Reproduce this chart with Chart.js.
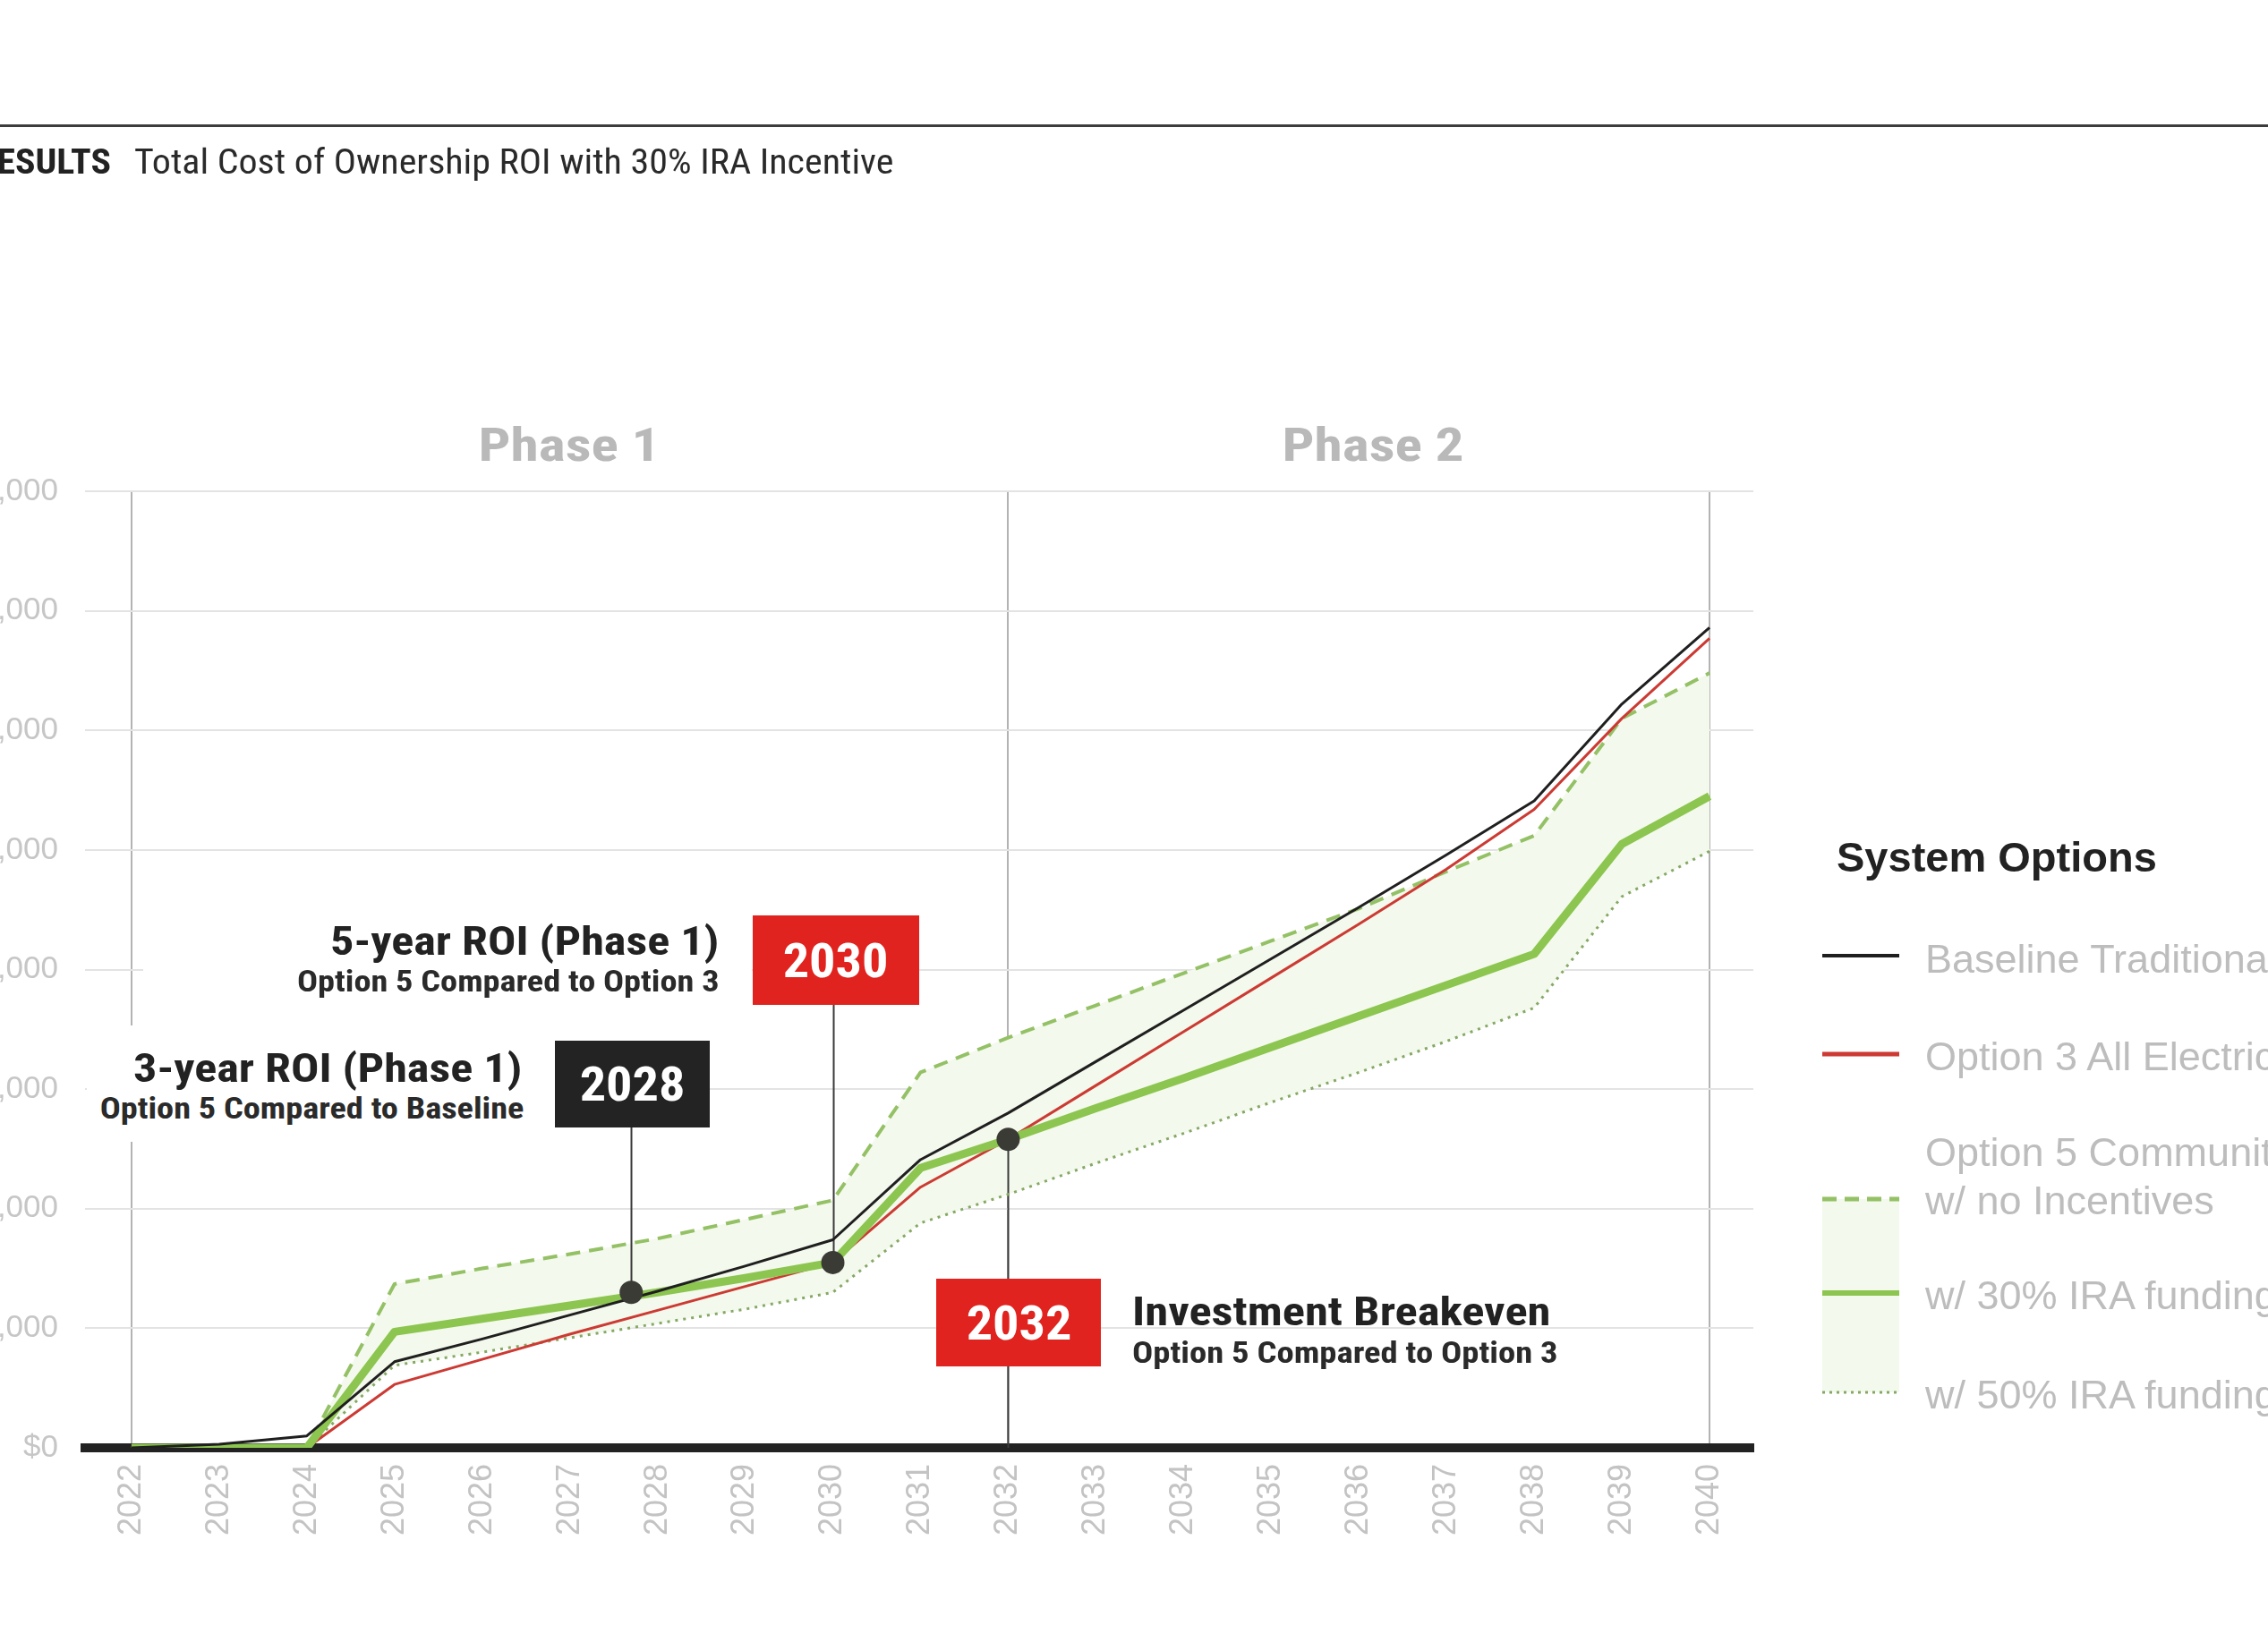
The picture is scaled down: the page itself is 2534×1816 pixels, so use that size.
<!DOCTYPE html>
<html>
<head>
<meta charset="utf-8">
<script src="https://cdn.jsdelivr.net/npm/chart.js@4.4.1/dist/chart.umd.min.js"></script>
<style>
  html, body { margin: 0; padding: 0; background: #fff; }
  body { width: 2534px; height: 1816px; position: relative; overflow: hidden; font-family: "Liberation Sans", Arial, sans-serif; }
  #chart { position: absolute; left: 0; top: 0; }
  .abs { position: absolute; white-space: nowrap; line-height: 1; }
  .narrow { font-family: "Liberation Sans Narrow", "Arial Narrow", "Roboto Condensed", sans-serif; }
  .rule { position: absolute; left: 0; top: 139px; width: 2534px; height: 3px; background: #3c3c3c; }
  .phase { font-weight: bold; font-size: 52px; color: #b9b9b9; transform: translateX(-50%) scaleX(1.22); }
  .head { font-weight: bold; font-size: 45px; color: #222; }
  .sub { font-weight: bold; font-size: 33px; color: #2a2a2a; }
  .wideR { transform: scaleX(1.16); transform-origin: right center; }
  .wideL { transform: scaleX(1.17); transform-origin: left center; }
  .box { position: absolute; color: #fff; font-size: 54px; font-weight: bold; display: flex; align-items: center; justify-content: center; }
  .box span { display: inline-block; transform: scaleX(1.08); }
  .blank { position: absolute; background: #fff; }
  .leg { font-size: 45px; color: #bdbdbd; }
</style>
</head>
<body>
<canvas id="chart" width="2534" height="1816"></canvas>

<div class="rule"></div>
<div class="abs narrow" style="right:2410px; top:162px; font-size:38px; font-weight:bold; color:#222; transform:scaleX(1.1); transform-origin:right center;">RESULTS</div>
<div class="abs narrow" style="left:150px; top:162px; font-size:38px; color:#2a2a2a; transform:scaleX(1.105); transform-origin:left center;">Total Cost of Ownership ROI with 30% IRA Incentive</div>

<div class="abs narrow phase" style="left:636px; top:472px;">Phase 1</div>
<div class="abs narrow phase" style="left:1534px; top:472px;">Phase 2</div>

<!-- белые подложки под подписями -->
<div class="blank" style="left:160px; top:1028px; width:680px; height:98px;"></div>
<div class="blank" style="left:97px; top:1146px; width:524px; height:130px;"></div>

<div class="abs narrow head wideR" style="right:1731px; top:1029px;">5-year ROI (Phase 1)</div>
<div class="abs narrow sub wideR" style="right:1731px; top:1080px;">Option 5 Compared to Option 3</div>
<div class="abs narrow head wideR" style="right:1951px; top:1171px;">3-year ROI (Phase 1)</div>
<div class="abs narrow sub wideR" style="right:1949px; top:1222px;">Option 5 Compared to Baseline</div>
<div class="abs narrow head wideL" style="left:1265px; top:1443px;">Investment Breakeven</div>
<div class="abs narrow sub wideL" style="left:1265px; top:1495px;">Option 5 Compared to Option 3</div>

<div id="box2030" class="box narrow" style="left:837px; top:1023px; width:186px; height:100px; background:#e0231e;"><span>2030</span></div>
<div id="box2028" class="box narrow" style="left:619px; top:1163px; width:173px; height:97px; background:#232323;"><span>2028</span></div>
<div id="box2032" class="box narrow" style="left:1047px; top:1429px; width:184px; height:98px; background:#e0231e;"><span>2032</span></div>

<!-- легенда -->
<svg class="abs" style="left:0; top:0;" width="2534" height="1816">
  <rect x="2036" y="1340" width="86" height="216" fill="#f3f9ec"/>
  <line x1="2036" y1="1068" x2="2122" y2="1068" stroke="#1f1f1f" stroke-width="4"/>
  <line x1="2036" y1="1178" x2="2122" y2="1178" stroke="#cc3a33" stroke-width="5"/>
  <line x1="2036" y1="1340" x2="2122" y2="1340" stroke="#94c165" stroke-width="5" stroke-dasharray="16 9"/>
  <line x1="2036" y1="1445" x2="2122" y2="1445" stroke="#8cc54f" stroke-width="6"/>
  <line x1="2036" y1="1556" x2="2122" y2="1556" stroke="#86a865" stroke-width="3" stroke-dasharray="3 5"/>
</svg>
<div class="abs" style="left:2052px; top:934px; font-size:47px; font-weight:bold; color:#222;">System Options</div>
<div class="abs leg" style="left:2151px; top:1049px;">Baseline Traditional</div>
<div class="abs leg" style="left:2151px; top:1158px;">Option 3 All Electric</div>
<div class="abs leg" style="left:2151px; top:1265px;">Option 5 Community</div>
<div class="abs leg" style="left:2151px; top:1319px;">w/ no Incentives</div>
<div class="abs leg" style="left:2151px; top:1425px;">w/ 30% IRA funding</div>
<div class="abs leg" style="left:2151px; top:1536px;">w/ 50% IRA funding</div>

<script>
// Годы по оси X
const years = [2022, 2023, 2024, 2025, 2026, 2027, 2028, 2029, 2030, 2031, 2032, 2033, 2034, 2035, 2036, 2037, 2038, 2039, 2040];

// Ряды (в единицах сетки)
const baseline = [0, 0.03, 0.1, 0.72, 0.91, 1.11, 1.31, 1.52, 1.74, 2.41, 2.80, 3.23, 3.66, 4.09, 4.52, 4.96, 5.41, 6.22, 6.86];
const option3 = [0, 0, 0, 0.53, 0.74, 0.95, 1.15, 1.35, 1.55, 2.18, 2.58, 3.03, 3.48, 3.93, 4.38, 4.84, 5.34, 6.10, 6.77];
const opt5NoIncentive = [0, 0, 0, 1.37, 1.50, 1.62, 1.75, 1.91, 2.07, 3.14, 3.43, 3.70, 3.97, 4.24, 4.51, 4.82, 5.12, 6.10, 6.48];
const opt5Ira30 = [0, 0, 0, 0.97, 1.08, 1.19, 1.30, 1.42, 1.55, 2.34, 2.58, 2.84, 3.09, 3.35, 3.61, 3.87, 4.13, 5.05, 5.45];
const opt5Ira50 = [0, 0, 0, 0.69, 0.80, 0.92, 1.04, 1.16, 1.30, 1.88, 2.12, 2.38, 2.63, 2.89, 3.14, 3.40, 3.68, 4.61, 4.99];

// Точки ROI
const roiYears = [2027.7, 2030, 2032];
const roiValues = [1.30, 1.55, 2.58];

// Подписи оси Y
const yTickLabels = ["$0", "$1,000", "$2,000", "$3,000", "$4,000", "$5,000", "$6,000", "$7,000", "$8,000"];
const gridYears = [2022, 2032, 2040];

const toPoints = (vals) => years.map((yr, i) => ({ x: yr, y: vals[i] }));

// выноски от плашек к точкам
const leaderPlugin = {
    id: "leaders",
    beforeDatasetsDraw(chart) {
        const c = chart.ctx;
        const xs = chart.scales.x;
        const ys = chart.scales.y;
        c.save();
        c.strokeStyle = "#3a3a3a";
        c.lineWidth = 2;
        const lines = [
            [xs.getPixelForValue(roiYears[0]), 1260, ys.getPixelForValue(roiValues[0])],
            [xs.getPixelForValue(roiYears[1]), 1123, ys.getPixelForValue(roiValues[1])],
            [xs.getPixelForValue(roiYears[2]), ys.getPixelForValue(roiValues[2]), ys.getPixelForValue(0)],
        ];
        lines.forEach(([x, y1, y2]) => {
            c.beginPath();
            c.moveTo(Math.round(x) + 0.5, y1);
            c.lineTo(Math.round(x) + 0.5, y2);
            c.stroke();
        });
        c.restore();
    },
};

const ctx = document.getElementById("chart").getContext("2d");
const chart = new Chart(ctx, {
    type: "line",
    data: {
        datasets: [
            {
                label: "ROI",
                data: roiYears.map((x, i) => ({ x: x, y: roiValues[i] })),
                showLine: false,
                pointRadius: 13,
                pointBackgroundColor: "#3b3b36",
                pointBorderWidth: 0,
                order: 0,
            },
            {
                label: "Baseline Traditional",
                data: toPoints(baseline),
                borderColor: "#1f1f1f",
                borderWidth: 3,
                order: 1,
            },
            {
                label: "Option 3 All Electric",
                data: toPoints(option3),
                borderColor: "#cc3a33",
                borderWidth: 3,
                order: 3,
            },
            {
                label: "w/ no Incentives",
                data: toPoints(opt5NoIncentive),
                borderColor: "#94c165",
                borderWidth: 4,
                borderDash: [16, 10],
                fill: { target: 5 },
                backgroundColor: "#f3f9ec",
                order: 4,
            },
            {
                label: "w/ 30% IRA funding",
                data: toPoints(opt5Ira30),
                borderColor: "#8cc54f",
                borderWidth: 9,
                order: 2,
            },
            {
                label: "w/ 50% IRA funding",
                data: toPoints(opt5Ira50),
                borderColor: "#86a865",
                borderWidth: 3,
                borderDash: [3, 6],
                order: 5,
            },
        ],
    },
    options: {
        responsive: false,
        animation: false,
        devicePixelRatio: 1,
        layout: { padding: { top: 549, right: 575, left: 0, bottom: 0 } },
        elements: {
            line: { tension: 0, borderJoinStyle: "round" },
            point: { radius: 0, hoverRadius: 0 },
        },
        plugins: {
            legend: { display: false },
            tooltip: { enabled: false },
            filler: { drawTime: "beforeDatasetsDraw" },
        },
        scales: {
            x: {
                type: "linear",
                min: 2021.47,
                max: 2040.5,
                afterBuildTicks: (s) => { s.ticks = years.map((v) => ({ value: v })); },
                afterFit: (s) => { s.height = 198; },
                grid: {
                    color: (c) => (c.tick && gridYears.includes(c.tick.value) ? "#b3b3b3" : "rgba(0,0,0,0)"),
                    lineWidth: 2,
                    drawTicks: false,
                },
                border: { color: "#222", width: 10 },
                ticks: {
                    autoSkip: false,
                    minRotation: 90,
                    maxRotation: 90,
                    padding: 18,
                    color: "#c3c3c3",
                    font: { family: "Liberation Sans", size: 36 },
                    callback: (v) => String(v),
                },
            },
            y: {
                min: 0,
                max: 8,
                afterBuildTicks: (s) => { s.ticks = yTickLabels.map((_, i) => ({ value: i })); },
                afterFit: (s) => { s.width = 95; },
                grid: { color: "#e3e3e3", lineWidth: 2, drawTicks: false },
                border: { display: false },
                ticks: {
                    padding: 30,
                    color: "#c6c6c6",
                    font: { family: "Liberation Sans", size: 35 },
                    callback: (v, i) => yTickLabels[i],
                },
            },
        },
    },
    plugins: [leaderPlugin],
});

// плашки по центру выносок
const xs = chart.scales.x;
document.getElementById("box2028").style.left = (xs.getPixelForValue(roiYears[0]) - 85) + "px";
document.getElementById("box2030").style.left = (xs.getPixelForValue(roiYears[1]) - 90) + "px";
document.getElementById("box2032").style.left = (xs.getPixelForValue(roiYears[2]) - 80) + "px";
</script>
</body>
</html>
